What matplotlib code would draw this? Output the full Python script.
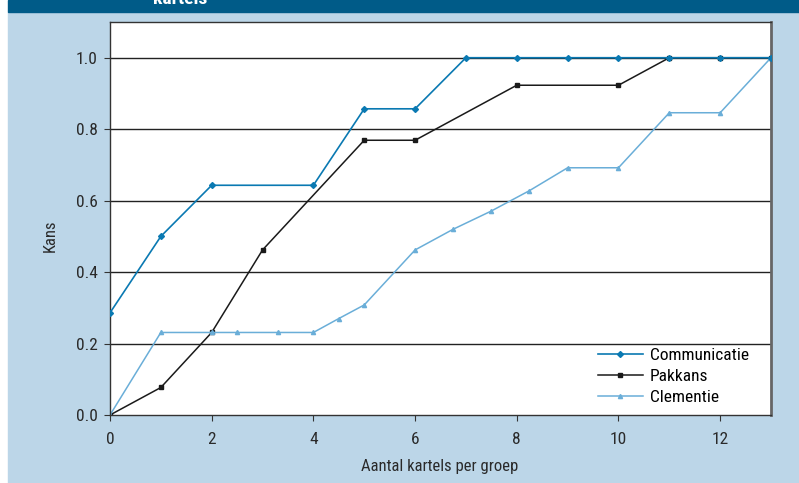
import matplotlib.pyplot as plt
from matplotlib.patches import Rectangle
from matplotlib import font_manager

# data
comm_x = [0, 1, 2, 4, 5, 6, 7, 8, 9, 10, 11, 12, 13]
comm_y = [0.286, 0.5, 0.643, 0.643, 0.857, 0.857, 1.0, 1.0, 1.0, 1.0, 1.0, 1.0, 1.0]

pak_x = [0, 1, 2, 3, 5, 6, 7, 8, 10, 11, 12, 13]
pak_y = [0.0, 0.077, 0.231, 0.462, 0.769, 0.769, 0.846, 0.923, 0.923, 1.0, 1.0, 1.0]
pak_marks = [0, 1, 2, 3, 4, 5, 7, 8, 9, 10, 11]

clem_x = [0, 1, 2, 2.5, 3.3, 4, 4.5, 5, 6, 6.75, 7.5, 8.25, 9, 10, 11, 12, 13]
clem_y = [0.0, 0.231, 0.231, 0.231, 0.231, 0.231, 0.27, 0.308, 0.462, 0.52, 0.571,
          0.628, 0.692, 0.692, 0.846, 0.846, 1.0]

xticks = [0, 2, 4, 6, 8, 10, 12]
yticks = [0.0, 0.2, 0.4, 0.6, 0.8, 1.0]

# narrow font if one is around, else Roboto
names = {f.name for f in font_manager.fontManager.ttflist}
fam = 'Roboto'
for cand in ['Roboto Condensed', 'Archivo Narrow', 'PT Sans Narrow', 'Liberation Sans Narrow',
             'Open Sans Condensed', 'Pragati Narrow']:
    if cand in names:
        fam = cand
        break
plt.rcParams['font.family'] = [fam, 'DejaVu Sans']

BG = '#bcd6e8'
BANNER = '#005b88'
C_COMM = '#0a79b2'
C_PAK = '#1a1a1a'
C_CLEM = '#6aaed8'

fig = plt.figure(figsize=(7.99, 4.83), dpi=100)
fig.patches.append(Rectangle((8 / 799, 0), 1, 1 - 12 / 483, transform=fig.transFigure,
                             color=BG, zorder=-10))
fig.patches.append(Rectangle((8 / 799, 1 - 12 / 483), 1, 12 / 483, transform=fig.transFigure,
                             color=BANNER, zorder=-10))
fig.text(153 / 799, 1 - 4 / 483, 'kartels', color='white', fontsize=14, fontweight='bold',
         va='baseline', ha='left')

ax = fig.add_axes([110 / 799, 68 / 483, 661 / 799, 393 / 483], zorder=5)
ax.set_facecolor('white')

for y in yticks[1:]:
    ax.axhline(y, color='#222222', lw=1.0, zorder=1)

ax.plot(comm_x, comm_y, color=C_COMM, lw=1.2, marker='D', ms=3, label='Communicatie', zorder=3)
ax.plot(pak_x, pak_y, color=C_PAK, lw=1.1, marker='s', ms=3.5, markevery=pak_marks,
        label='Pakkans', zorder=2)
ax.plot(clem_x, clem_y, color=C_CLEM, lw=1.1, marker='^', ms=3, label='Clementie', zorder=2)

ax.set_xlim(0, 13)
ax.set_ylim(0, 1.1)
ax.set_xticks(xticks)
ax.set_yticks(yticks)
ax.set_yticklabels([f'{v:.1f}' for v in yticks])
ax.tick_params(axis='both', labelsize=12.5, length=4, color='#333333', labelcolor='#2a2a2a')
ax.tick_params(axis='x', pad=8)
ax.tick_params(axis='y', pad=5)

for s in ['left', 'bottom', 'top']:
    ax.spines[s].set_color('#333333')
    ax.spines[s].set_linewidth(1.0)
ax.spines['right'].set_color('#666666')
ax.spines['right'].set_linewidth(2.0)

ax.set_ylabel('Kans', fontsize=12, color='#2a2a2a', va='center')
ax.yaxis.set_label_coords(-60 / 661, (415 - 236) / 393)
ax.set_xlabel('Aantal kartels per groep', fontsize=12, color='#2a2a2a', va='center')
ax.xaxis.set_label_coords((440 - 110) / 661, -(467 - 415) / 393)

ax.legend(loc='lower right', bbox_to_anchor=(0.99, -0.015), frameon=False, fontsize=12.5,
          handlelength=2.6, handletextpad=0.4, labelspacing=0.35)

fig.savefig('out.png', dpi=100)
